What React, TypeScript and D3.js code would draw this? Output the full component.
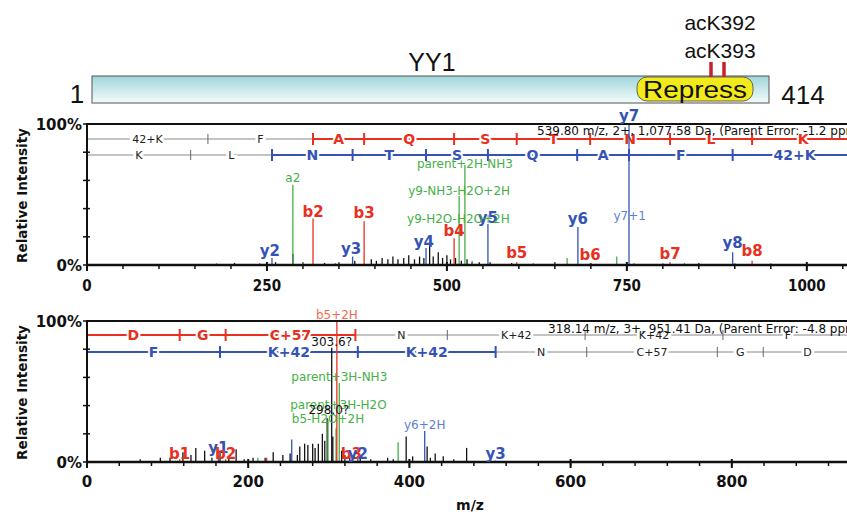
import React from "react";
import * as d3 from "d3";

// ---------- DATA ----------
// Top spectrum (m/z, relative intensity %)
const topBlack: [number, number][] = [
  [180, 1], [205, 1.5], [240, 1], [262, 2], [286, 8], [300, 2], [330, 1.5], [350, 2], [372, 3],
  [395, 4], [402, 3], [410, 5], [418, 4], [425, 6], [432, 4], [440, 5], [447, 7], [455, 4],
  [462, 6], [468, 5], [476, 14], [481, 6], [488, 9], [494, 5], [500, 7], [505, 4], [512, 5],
  [520, 3], [528, 4], [535, 2], [545, 2], [560, 2], [590, 1.5], [620, 1], [650, 2], [700, 1.5],
  [760, 1], [800, 1], [850, 1.5], [900, 1], [950, 1],
];
const topGreen: [number, number][] = [
  [286, 57], [300, 1.5], [345, 1.5], [517, 49], [525, 71], [535, 3], [667, 5], [736, 6], [830, 1.5],
];
const topRed: [number, number][] = [
  [314, 33], [385, 31], [510, 19], [597, 2], [699, 1], [810, 2], [924, 3],
];
const topBlue: [number, number][] = [
  [257, 5], [369, 6], [471, 12], [557, 29], [682, 27], [753, 100], [897, 9],
];
const topIonLabels = [
  { t: "a2", mz: 286, dy: 182, c: "green", s: 12, b: false },
  { t: "b2", mz: 314, dy: 217, c: "red", s: 15, b: true },
  { t: "b3", mz: 385, dy: 218, c: "red", s: 15, b: true },
  { t: "y2", mz: 254, dy: 256, c: "blue", s: 15, b: true },
  { t: "y3", mz: 367, dy: 254, c: "blue", s: 15, b: true },
  { t: "y4", mz: 468, dy: 247, c: "blue", s: 15, b: true },
  { t: "b4", mz: 510, dy: 236, c: "red", s: 15, b: true },
  { t: "y5", mz: 557, dy: 223, c: "blue", s: 15, b: true },
  { t: "b5", mz: 597, dy: 258, c: "red", s: 15, b: true },
  { t: "y6", mz: 682, dy: 224, c: "blue", s: 15, b: true },
  { t: "b6", mz: 699, dy: 260, c: "red", s: 15, b: true },
  { t: "y7", mz: 753, dy: 121, c: "blue", s: 15, b: true },
  { t: "y7+1", mz: 754, dy: 220, c: "lblue", s: 12, b: false },
  { t: "b7", mz: 810, dy: 259, c: "red", s: 15, b: true },
  { t: "y8", mz: 897, dy: 248, c: "blue", s: 15, b: true },
  { t: "b8", mz: 924, dy: 256, c: "red", s: 15, b: true },
  { t: "parent+2H-NH3", mz: 525, dy: 168, c: "green", s: 12, b: false },
  { t: "y9-NH3-H2O+2H", mz: 517, dy: 195, c: "green", s: 12, b: false },
  { t: "y9-H2O-H2O+2H", mz: 516, dy: 223, c: "green", s: 12, b: false },
];
// Sequence rows: fragment boundaries (m/z) and residue labels
const topRedBounds = [0, 168, 314, 385, 510, 597, 699, 810, 924, 1066];
const topRedRes = ["42+K", "F", "A", "Q", "S", "T", "N", "L", "K"];
const topBlueBounds = [0, 144, 257, 369, 471, 557, 681, 753, 897, 1069];
const topBlueRes = ["K", "L", "N", "T", "S", "Q", "A", "F", "42+K"];
const topInfo = "539.80 m/z, 2+, 1,077.58 Da, (Parent Error: -1.2 ppm";

// Bottom spectrum
const botBlack: [number, number][] = [
  [66, 2], [91, 3], [103, 3], [119, 7], [129, 5], [135, 10], [146, 8], [155, 3], [165, 8],
  [176, 3], [185, 9], [195, 2], [206, 3], [221, 3], [231, 7], [243, 5], [252, 6], [261, 5],
  [264, 11], [270, 13], [274, 12], [280, 13], [283, 10], [287, 13], [292, 20], [295, 15],
  [298, 31], [303.6, 81], [305, 18], [316, 8], [320, 5], [326, 4], [339, 3], [352, 2],
  [373, 3], [380, 2], [396, 18], [404, 4], [422, 11], [426, 3], [432, 6], [442, 4], [455, 2],
  [471, 10],
];
const botGreen: [number, number][] = [
  [212, 3], [299, 30], [309, 24], [313, 56], [386, 14], [440, 1],
];
const botRed: [number, number][] = [
  [115, 2], [172, 2], [223, 3], [310, 100], [329, 3],
];
const botBlue: [number, number][] = [
  [163, 3], [254, 16], [336, 4], [419, 22], [507, 1],
];
const botIonLabels = [
  { t: "b5+2H", mz: 310, dy: 319, c: "lred", s: 12, b: false },
  { t: "303.6?", mz: 303.6, dy: 346, c: "black", s: 12, b: false },
  { t: "parent+3H-NH3", mz: 313, dy: 381, c: "green", s: 12, b: false },
  { t: "parent+3H-H2O", mz: 312, dy: 409, c: "green", s: 12, b: false },
  { t: "298.0?", mz: 300, dy: 414, c: "black", s: 12, b: false },
  { t: "b5-H2O+2H", mz: 299, dy: 423, c: "green", s: 12, b: false },
  { t: "y6+2H", mz: 419, dy: 429, c: "lblue", s: 12, b: false },
  { t: "b1", mz: 115, dy: 459, c: "red", s: 15, b: true },
  { t: "y1", mz: 163, dy: 453, c: "blue", s: 15, b: true },
  { t: "b2", mz: 172, dy: 459, c: "red", s: 15, b: true },
  { t: "b3", mz: 328, dy: 459, c: "red", s: 15, b: true },
  { t: "y2", mz: 336, dy: 459, c: "blue", s: 15, b: true },
  { t: "y3", mz: 507, dy: 459, c: "blue", s: 15, b: true },
];
const botRedBounds = [0, 115, 172, 333, 447, 618, 789, 950];
const botRedRes = ["D", "G", "C+57", "N", "K+42", "K+42", "F"];
const botBlueBounds = [0, 165, 336, 507, 620, 782, 839, 949];
const botBlueRes = ["F", "K+42", "K+42", "N", "C+57", "G", "D"];
const botInfo = "318.14 m/z, 3+, 951.41 Da, (Parent Error: -4.8 ppm";

const topTicks = [0, 250, 500, 750, 1000];
const botTicks = [0, 200, 400, 600, 800];
const yTicks = [0, 20, 40, 60, 80, 100];

// ---------- STYLE ----------
const COL: Record<string, string> = {
  red: "#e8301e",
  lred: "#f26a4f",
  blue: "#3553b5",
  lblue: "#5b82d2",
  green: "#45b048",
  black: "#111",
  gray: "#888",
};
const SF = "'DejaVu Sans', Verdana, sans-serif";
const AF = "'Liberation Sans', Arial, sans-serif";

function SeqRow({ bounds, res, colorFrom, colorTo, color, x, y, fs }: any) {
  const segs = [];
  for (let i = 0; i < res.length; i++) {
    const colored = i >= colorFrom && i < colorTo;
    const c = colored ? COL[color] : COL.gray;
    const x0 = x(bounds[i]);
    const x1 = x(bounds[i + 1]);
    segs.push(
      <g key={i}>
        <line x1={x0} x2={x1} y1={y} y2={y} stroke={c} strokeWidth={colored ? 2 : 1} />
        <text
          x={(x0 + x1) / 2}
          y={y + (colored ? fs * 0.36 : 4)}
          textAnchor="middle"
          fontFamily={SF}
          fontWeight={colored ? "bold" : "normal"}
          fontSize={colored ? fs : 11}
          fill={colored ? c : "#222"}
          stroke="#fff"
          strokeWidth={colored ? 4 : 6}
          paintOrder="stroke"
        >
          {res[i]}
        </text>
      </g>
    );
  }
  const ticks = bounds.slice(1, -1).map((b: number, i: number) => {
    const k = i + 1;
    const isCol = k >= colorFrom && k <= colorTo && !(colorFrom > 0 && k === colorFrom && false);
    const c = isCol ? COL[color] : "#666";
    const h = isCol ? 6 : 5;
    return <line key={"t" + i} x1={x(b)} x2={x(b)} y1={y - h} y2={y + h} stroke={c} strokeWidth={isCol ? 2 : 1} />;
  });
  return <g>{segs}{ticks}</g>;
}

function Panel({ x, y, black, green, red, blue, labels, ticks, minorStep, maxMz, yAxisTop, yAxisBottom }: any) {
  const peaks = [
    ...black.map((p: any) => ({ p, c: "#111" })),
    ...green.map((p: any) => ({ p, c: COL.green })),
    ...red.map((p: any) => ({ p, c: COL.red })),
    ...blue.map((p: any) => ({ p, c: COL.blue })),
  ];
  const minors = d3.range(0, maxMz, minorStep);
  return (
    <g>
      {peaks.map((d: any, i: number) => (
        <line key={i} x1={x(d.p[0])} x2={x(d.p[0])} y1={y(0)} y2={y(d.p[1])} stroke={d.c} strokeWidth={1.3} />
      ))}
      <line x1={x(0)} x2={847} y1={yAxisTop} y2={yAxisTop} stroke="#111" strokeWidth={2} />
      <line x1={x(0)} x2={847} y1={yAxisBottom} y2={yAxisBottom} stroke="#111" strokeWidth={2.5} />
      <line x1={x(0)} x2={x(0)} y1={yAxisTop - 1} y2={yAxisBottom + 1} stroke="#111" strokeWidth={2} />
      {minors.map((m: number) => (
        <line key={"m" + m} x1={x(m)} x2={x(m)} y1={yAxisBottom} y2={yAxisBottom + 4} stroke="#111" strokeWidth={1.5} />
      ))}
      {ticks.map((t: number) => (
        <line key={"M" + t} x1={x(t)} x2={x(t)} y1={yAxisBottom - 3} y2={yAxisBottom + 6} stroke="#111" strokeWidth={2} />
      ))}
      {yTicks.map((t: number) => (
        <line key={"y" + t} x1={x(0) - 4} x2={x(0) + 3} y1={y(t)} y2={y(t)} stroke="#111" strokeWidth={1.5} />
      ))}
      {labels.map((l: any, i: number) => (
        <text key={"l" + i} x={x(l.mz)} y={l.dy} textAnchor="middle" fontFamily={SF}
          fontWeight={l.b ? "bold" : "normal"} fontSize={l.s} fill={COL[l.c]}>
          {l.t}
        </text>
      ))}
    </g>
  );
}

export default function App() {
  const W = 847, H = 514;
  const xTop = d3.scaleLinear().domain([0, 1060]).range([87, 87 + 1060 * 0.7198]);
  const yTop = d3.scaleLinear().domain([0, 100]).range([265, 124]);
  const xBot = d3.scaleLinear().domain([0, 950]).range([87, 87 + 950 * 0.806]);
  const yBot = d3.scaleLinear().domain([0, 100]).range([462, 321]);

  return (
    <svg width={W} height={H} style={{ position: "absolute", left: 0, top: 0, background: "#fff" }}>
      <defs>
        <linearGradient id="prot" x1="0" y1="0" x2="0" y2="1">
          <stop offset="0%" stopColor="#9fd6da" />
          <stop offset="100%" stopColor="#f4fbfb" />
        </linearGradient>
      </defs>
      <rect width={W} height={H} fill="#fff" />

      {/* protein diagram */}
      <rect x={92} y={76} width={677} height={27} fill="url(#prot)" stroke="#555" strokeWidth={1} />
      <rect x={637} y={77} width={116} height={24} rx={10} ry={10} fill="#f2ea1a" stroke="#444" strokeWidth={0.8} />
      <text x={695} y={98} textAnchor="middle" fontFamily={AF} fontSize={23} textLength={104} lengthAdjust="spacingAndGlyphs" fill="#111">Repress</text>
      <line x1={711} x2={711} y1={62} y2={77} stroke="#c8202a" strokeWidth={3.5} />
      <line x1={724} x2={724} y1={62} y2={77} stroke="#c8202a" strokeWidth={3.5} />
      <text x={720} y={30} textAnchor="middle" fontFamily={AF} fontSize={21} fill="#111">acK392</text>
      <text x={720} y={58} textAnchor="middle" fontFamily={AF} fontSize={21} fill="#111">acK393</text>
      <text x={432} y={71} textAnchor="middle" fontFamily={AF} fontSize={25} fill="#111">YY1</text>
      <text x={77} y={103} textAnchor="middle" fontFamily={AF} fontSize={26} fill="#111">1</text>
      <text x={803} y={104} textAnchor="middle" fontFamily={AF} fontSize={26} fill="#111">414</text>

      {/* TOP SPECTRUM */}
      <SeqRow bounds={topRedBounds} res={topRedRes} colorFrom={2} colorTo={9} color="red" x={xTop} y={139} fs={14} />
      <SeqRow bounds={topBlueBounds} res={topBlueRes} colorFrom={2} colorTo={9} color="blue" x={xTop} y={155} fs={14} />
      <Panel x={xTop} y={yTop} black={topBlack} green={topGreen} red={topRed} blue={topBlue}
        labels={topIonLabels} ticks={topTicks} minorStep={50} maxMz={1060} yAxisTop={124} yAxisBottom={265} />
      <text x={537} y={135} fontFamily={SF} fontSize={12} fill="#111">{topInfo}</text>

      {/* BOTTOM SPECTRUM */}
      <SeqRow bounds={botRedBounds} res={botRedRes} colorFrom={0} colorTo={3} color="red" x={xBot} y={335} fs={14} />
      <SeqRow bounds={botBlueBounds} res={botBlueRes} colorFrom={0} colorTo={3} color="blue" x={xBot} y={352} fs={14} />
      <Panel x={xBot} y={yBot} black={botBlack} green={botGreen} red={botRed} blue={botBlue}
        labels={botIonLabels} ticks={botTicks} minorStep={40} maxMz={950} yAxisTop={321} yAxisBottom={462} />
      <text x={548} y={333} fontFamily={SF} fontSize={12} fill="#111">{botInfo}</text>

      {/* axis labels */}
      {topTicks.map((t) => (
        <text key={"tt" + t} x={xTop(t)} y={291} textAnchor="middle" fontFamily="'DejaVu Sans Condensed', 'DejaVu Sans', sans-serif" fontWeight="bold" fontSize={15} fill="#111">{t}</text>
      ))}
      {botTicks.map((t) => (
        <text key={"bt" + t} x={xBot(t)} y={487} textAnchor="middle" fontFamily="'DejaVu Sans', sans-serif" fontWeight="bold" fontSize={15} fill="#111">{t}</text>
      ))}
      <text x={470} y={510} textAnchor="middle" fontFamily="'DejaVu Sans', sans-serif" fontWeight="bold" fontSize={14} fill="#111">m/z</text>

      {[{ t: 124, b: 265 }, { t: 321, b: 462 }].map((p, i) => (
        <g key={"ya" + i}>
          <text x={82} y={p.t + 6} textAnchor="end" fontFamily="'DejaVu Sans', sans-serif" fontWeight="bold" fontSize={15} fill="#111">100%</text>
          <text x={82} y={p.b + 6} textAnchor="end" fontFamily="'DejaVu Sans', sans-serif" fontWeight="bold" fontSize={15} fill="#111">0%</text>
          <text transform={`translate(27,${(p.t + p.b) / 2 + 1}) rotate(-90)`} textAnchor="middle" fontFamily="'DejaVu Sans', sans-serif" fontWeight="bold" fontSize={13.5} fill="#111">Relative Intensity</text>
        </g>
      ))}
    </svg>
  );
}
